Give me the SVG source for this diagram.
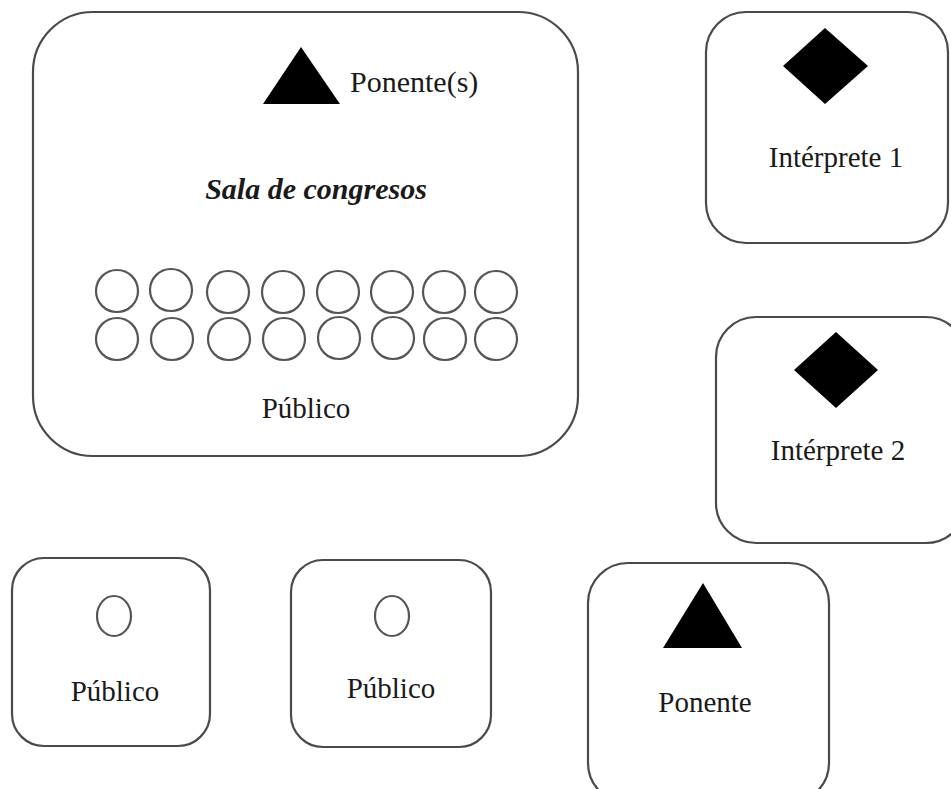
<svg xmlns="http://www.w3.org/2000/svg" width="951" height="789" viewBox="0 0 951 789">
<style>
.box{fill:#fff;stroke:#4a4a4a;stroke-width:2.2}
.seat{fill:#fff;stroke:#555;stroke-width:2.2}
.lbl{font-family:"Liberation Serif","Times New Roman",serif;font-size:29px;fill:#1a1a1a}
.ttl{font-family:"Liberation Serif","Times New Roman",serif;font-size:30px;font-weight:bold;font-style:italic;fill:#1a1a1a}
.mark{fill:#000}
</style>
<rect width="951" height="789" fill="#fff"/>
<g id="sala">
<rect class="box" x="33" y="12" width="545" height="444" rx="60"/>
<polygon class="mark" points="301,47 340,104 263,104"/>
<text class="lbl" x="350" y="92" style="font-size:30px">Ponente(s)</text>
<text class="ttl" x="316" y="199" text-anchor="middle">Sala de congresos</text>
<g id="seats">
<circle class="seat" cx="117" cy="291" r="21"/><circle class="seat" cx="171" cy="290" r="21"/><circle class="seat" cx="228" cy="292" r="21"/><circle class="seat" cx="283" cy="292" r="21"/><circle class="seat" cx="338" cy="292" r="21"/><circle class="seat" cx="392" cy="292" r="21"/><circle class="seat" cx="444" cy="292" r="21"/><circle class="seat" cx="496" cy="292" r="21"/>
<circle class="seat" cx="117" cy="339" r="21"/><circle class="seat" cx="172" cy="339" r="21"/><circle class="seat" cx="229" cy="339" r="21"/><circle class="seat" cx="284" cy="339" r="21"/><circle class="seat" cx="339" cy="338" r="21"/><circle class="seat" cx="393" cy="338" r="21"/><circle class="seat" cx="445" cy="339" r="21"/><circle class="seat" cx="496" cy="339" r="21"/>
</g>
<text class="lbl" x="306" y="418" text-anchor="middle">Público</text>
</g>
<g id="interprete1">
<rect class="box" x="706" y="12" width="242" height="231" rx="40"/>
<polygon class="mark" points="825,28 868,66 825,104 783,66"/>
<text class="lbl" x="836" y="167" text-anchor="middle">Intérprete 1</text>
</g>
<g id="interprete2">
<rect class="box" x="716" y="317" width="250" height="226" rx="40"/>
<polygon class="mark" points="836,332 878,370 836,408 794,370"/>
<text class="lbl" x="838" y="460" text-anchor="middle">Intérprete 2</text>
</g>
<g id="publico1">
<rect class="box" x="12" y="558" width="198" height="188" rx="32"/>
<ellipse class="seat" cx="114" cy="616" rx="17" ry="20"/>
<text class="lbl" x="115" y="701" text-anchor="middle">Público</text>
</g>
<g id="publico2">
<rect class="box" x="291" y="560" width="200" height="187" rx="32"/>
<ellipse class="seat" cx="392" cy="616" rx="17" ry="20"/>
<text class="lbl" x="391" y="698" text-anchor="middle">Público</text>
</g>
<g id="ponente">
<rect class="box" x="588" y="563" width="241" height="240" rx="40"/>
<polygon class="mark" points="703,583 742,648 663,648"/>
<text class="lbl" x="705" y="712" text-anchor="middle">Ponente</text>
</g>
<g id="connectors"/>
</svg>
